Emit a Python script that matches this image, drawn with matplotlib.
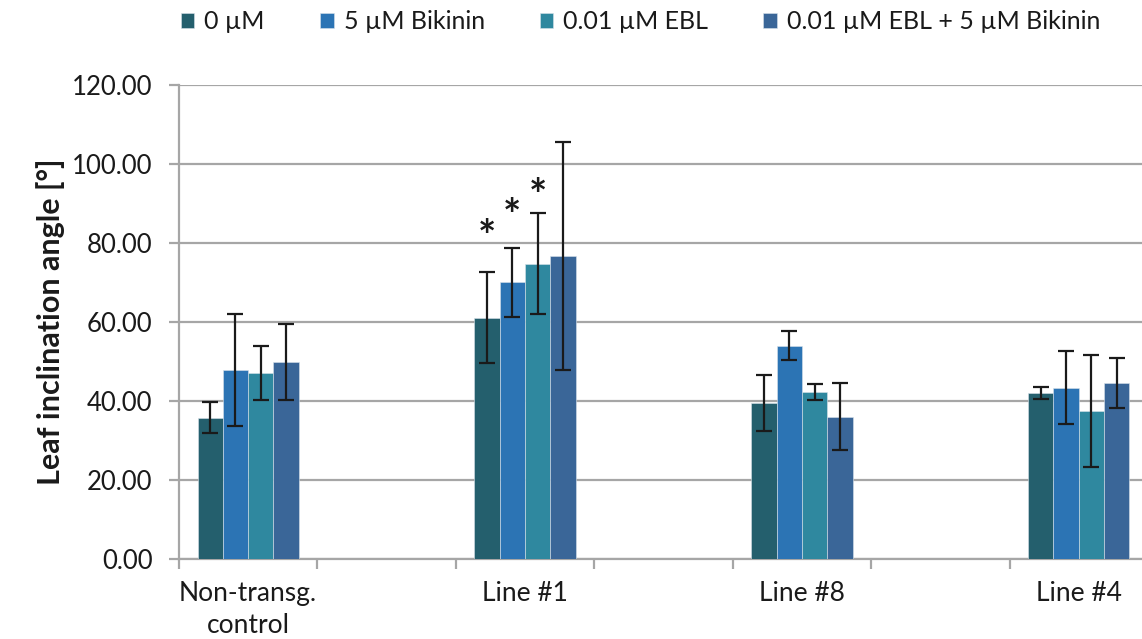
import matplotlib.pyplot as plt
import numpy as np

plt.rcParams['font.family'] = ['Lato', 'DejaVu Sans']

groups = ['Non-transg.\ncontrol', 'Line #1', 'Line #8', 'Line #4']
series = ['0 µM', '5 µM Bikinin', '0.01 µM EBL', '0.01 µM EBL + 5 µM Bikinin']
colors = ['#245F6D', '#2C74B4', '#2F889F', '#3A6698']

# mean leaf inclination angle per series, one value per group
means = [
    [35.8, 61.1, 39.4, 42.1],
    [47.8, 70.0, 54.0, 43.4],
    [47.1, 74.8, 42.2, 37.4],
    [49.9, 76.7, 36.0, 44.6],
]
errs = [
    [4.0, 11.6, 7.1, 1.5],
    [14.2, 8.7, 3.6, 9.3],
    [6.9, 12.8, 2.0, 14.2],
    [9.7, 28.9, 8.5, 6.4],
]
# significance stars (Line #1, first three series)
star_series = [0, 1, 2]
star_y = [83.8, 89.1, 94.2]

fig = plt.figure(figsize=(11.42, 6.39), dpi=100)
ax = fig.add_axes([0.1567, 0.1252, 0.8485, 0.7418])

x = np.arange(len(groups)) * 2.0
w = 0.183
for i, name in enumerate(series):
    pos = x + (i - 1.5) * w
    ax.bar(pos, means[i], w, color=colors[i], edgecolor='#d8e2ea', linewidth=0.4,
           label=name, zorder=3)
    ax.errorbar(pos, means[i], yerr=errs[i], fmt='none', ecolor='#1a1a1a',
                elinewidth=1.6, capsize=6, capthick=1.6, zorder=4)

for s, yv in zip(star_series, star_y):
    ax.annotate('*', (x[1] + (s - 1.5) * w, yv), xytext=(0, -10),
                textcoords='offset pixels', ha='center', va='center',
                fontsize=31, fontweight='bold', color='#1a1a1a', zorder=5)

ax.set_ylim(0, 120)
ax.set_xlim(-0.5, 6.5)
ax.set_yticks(np.arange(0, 121, 20))
ax.set_yticklabels([f'{v:.2f}' for v in np.arange(0, 121, 20)])
ax.yaxis.grid(True, color='#a6a6a6', linewidth=1.6, zorder=0)
ax.set_axisbelow(True)

ax.set_xticks(np.arange(-0.5, 7.0, 1.0))
ax.set_xticklabels([])
ax.set_xticks(x, minor=True)
ax.set_xticklabels(groups, minor=True, fontsize=19, color='#1a1a1a', linespacing=1.35)
ax.tick_params(axis='x', which='major', length=7, width=1.6, color='#a6a6a6')
ax.tick_params(axis='x', which='minor', length=0, pad=16)
ax.tick_params(axis='y', length=7, width=1.6, color='#a6a6a6', pad=12,
               labelsize=18.5, labelcolor='#1a1a1a')

for side in ['top', 'right']:
    ax.spines[side].set_visible(False)
for side in ['left', 'bottom']:
    ax.spines[side].set_color('#a6a6a6')
    ax.spines[side].set_linewidth(1.6)

ax.set_ylabel('Leaf inclination angle [°]', fontsize=22, fontweight='bold',
              color='#1a1a1a', labelpad=5)

fig.legend(loc='center', bbox_to_anchor=(0.561, 0.966), ncol=4, frameon=False,
           fontsize=18, handlelength=0.55, handleheight=0.55, handletextpad=0.4,
           columnspacing=2.2, labelcolor='#1a1a1a')

fig.savefig('out.png', dpi=100)
